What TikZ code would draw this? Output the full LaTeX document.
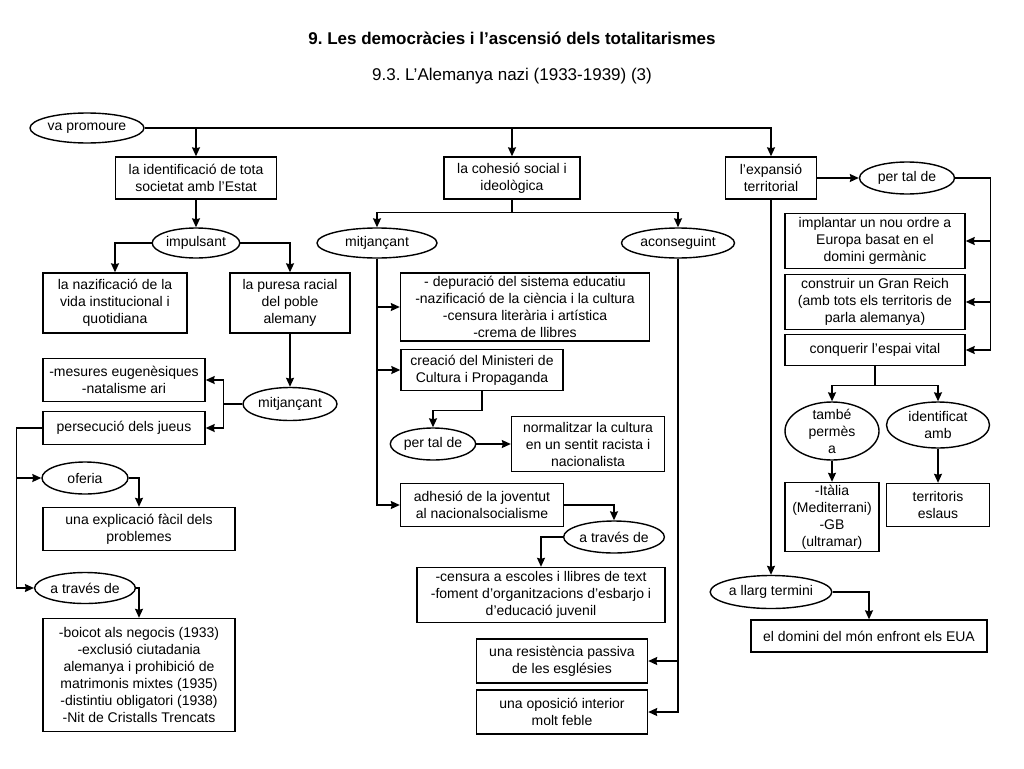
\documentclass[tikz,border=0pt]{standalone}
\usepackage{fontspec}
\setmainfont{Liberation Sans}
\frenchspacing
\usepackage{tikz}
\usetikzlibrary{shapes,arrows.meta}
\tikzset{box/.style={rectangle,draw,align=center,inner sep=1pt}}
\tikzset{ell/.style={ellipse,draw,align=center,inner sep=1pt}}

\begin{document}
\begin{tikzpicture}[>={Stealth[length=9pt,width=8pt,inset=1pt]},x=1pt,y=-1pt,line width=1.4pt,font=\fontsize{14}{17}\selectfont]
        \useasboundingbox (0,0) rectangle (1024,768);
        \node[font=\fontsize{17}{20}\selectfont\bfseries] (titol) at (512,38) {9. Les democràcies i l’ascensió dels totalitarismes};
        \node[font=\fontsize{17}{20}\selectfont] (subtitol) at (512,76) {9.3. L’Alemanya nazi (1933-1939) (3)};

        \node[ell,minimum width=102pt,minimum height=30pt] (promoure) at (87,128) {va promoure};
        \node[box,minimum width=161pt,minimum height=42pt] (identif) at (196,178) {la identificació de tota\\societat amb l’Estat};
        \node[box,minimum width=136pt,minimum height=42pt] (cohesio) at (512,178) {la cohesió social i\\ideològica};
        \node[box,minimum width=91pt,minimum height=42pt] (expansio) at (771,178) {l’expansió\\territorial};

        % identificacio amb l'Estat
        \node[ell,minimum width=86pt,minimum height=30pt] (impulsant) at (196,243) {impulsant};
        \node[box,minimum width=144pt,minimum height=60pt] (nazif) at (115,303) {la nazificació de la\\vida institucional i\\quotidiana};
        \node[box,minimum width=120pt,minimum height=60pt] (puresa) at (290,303) {la puresa racial\\del poble\\alemany};
        \node[ell,minimum width=94pt,minimum height=33pt] (mitjpur) at (290,404) {mitjançant};
        \node[box,minimum width=162pt,minimum height=43pt] (mesures) at (124,380) {-mesures eugenèsiques\\-natalisme ari};
        \node[box,minimum width=162pt,minimum height=33pt] (jueus) at (124,428) {persecució dels jueus};
        \node[ell,minimum width=86pt,minimum height=32pt] (oferia) at (85,478) {oferia};
        \node[box,minimum width=192pt,minimum height=43pt] (explic) at (139,529) {una explicació fàcil dels\\problemes};
        \node[ell,minimum width=86pt,minimum height=31pt] (atraves) at (85,588) {a través de};
        \node[box,minimum width=192pt,minimum height=113pt] (mesjueus) at (139,675) {-boicot als negocis (1933)\\-exclusió ciutadania\\alemanya i prohibició de\\matrimonis mixtes (1935)\\-distintiu obligatori (1938)\\-Nit de Cristalls Trencats};

        % cohesio social
        \node[ell,minimum width=120pt,minimum height=30pt] (mitjcoh) at (377,243) {mitjançant};
        \node[ell,minimum width=113pt,minimum height=30pt] (aconseg) at (678,243) {aconseguint};
        \node[box,minimum width=249pt,minimum height=68pt] (depur) at (525,307) {- depuració del sistema educatiu\\-nazificació de la ciència i la cultura\\-censura literària i artística\\-crema de llibres};
        \node[box,minimum width=162pt,minimum height=41pt] (minister) at (482,370) {creació del Ministeri de\\Cultura i Propaganda};
        \node[ell,minimum width=85pt,minimum height=32pt] (pertalcult) at (433,444) {per tal de};
        \node[box,minimum width=153pt,minimum height=55pt] (normal) at (588,444) {normalitzar la cultura\\en un sentit racista i\\nacionalista};
        \node[box,minimum width=163pt,minimum height=43pt] (joventut) at (482,505) {adhesió de la joventut\\al nacionalsocialisme};
        \node[ell,minimum width=85pt,minimum height=32pt] (atravesjov) at (614,537) {a través de};
        \node[box,minimum width=248pt,minimum height=55pt] (censura) at (541,595) {-censura a escoles i llibres de text\\-foment d’organitzacions d’esbarjo i\\d’educació juvenil};
        \node[box,minimum width=171pt,minimum height=44pt] (esglesies) at (562,661) {una resistència passiva\\de les esglésies};
        \node[box,minimum width=171pt,minimum height=44pt] (oposicio) at (562,712) {una oposició interior\\molt feble};

        % expansio territorial
        \node[ell,minimum width=95pt,minimum height=32pt] (pertalexp) at (907,178) {per tal de};
        \node[box,minimum width=180pt,minimum height=55pt] (ordre) at (875,241) {implantar un nou ordre a\\Europa basat en el\\domini germànic};
        \node[box,minimum width=180pt,minimum height=55pt] (reich) at (875,302) {construir un Gran Reich\\(amb tots els territoris de\\parla alemanya)};
        \node[box,minimum width=180pt,minimum height=31pt] (espai) at (875,350) {conquerir l’espai vital};
        \node[ell,minimum width=94pt,minimum height=58pt,inner ysep=-3pt] (permes) at (832,431) {també\\permès\\a};
        \node[ell,minimum width=103pt,minimum height=46pt] (identamb) at (938,425) {identificat\\amb};
        \node[box,minimum width=94pt,minimum height=69pt] (italia) at (832,517) {-Itàlia\\(Mediterrani)\\-GB\\(ultramar)};
        \node[box,minimum width=103pt,minimum height=43pt] (eslaus) at (938,505) {territoris\\eslaus};
        \node[ell,minimum width=110pt,minimum height=33pt] (llarg) at (771,592) {a llarg termini};
        \node[box,minimum width=236pt,minimum height=32pt] (mon) at (869,636) {el domini del món enfront els EUA};

        \draw [->] (promoure.east) -| (expansio.north);
        \draw [->] (promoure.east -| identif.north) -- (identif.north);
        \draw [->] (promoure.east -| cohesio.north) -- (cohesio.north);

        \draw [->] (identif) -- (impulsant);
        \draw [->] (impulsant.west) -| (nazif.north);
        \draw [->] (impulsant.east) -| (puresa.north);
        \draw [->] (puresa) -- (mitjpur);
        \draw [->] (mitjpur.west) -- ++(-19,0) |- (mesures.east);
        \draw [->] (mitjpur.west) -- ++(-19,0) |- (jueus.east);
        \draw [->] (jueus.west) -- ++(-26,0) |- (oferia.west);
        \draw [->] (jueus.west) -- ++(-26,0) |- (atraves.west);
        \draw [->] (oferia.east) -| (explic.north);
        \draw [->] (atraves.east) -| (mesjueus.north);

        \draw [->] (cohesio.south) -- ++(0,13) -| (mitjcoh.north);
        \draw [->] (cohesio.south) -- ++(0,13) -| (aconseg.north);
        \draw [->] (mitjcoh.south) |- (depur.west);
        \draw [->] (mitjcoh.south) |- (minister.west);
        \draw [->] (mitjcoh.south) |- (joventut.west);
        \draw [->] (minister.south) -- ++(0,19) -| (pertalcult.north);
        \draw [->] (pertalcult) -- (normal);
        \draw [->] (joventut.east) -| (atravesjov.north);
        \draw [->] (atravesjov.west) -| (censura.north);
        \draw [->] (aconseg.south) |- (esglesies.east);
        \draw [->] (aconseg.south) |- (oposicio.east);

        \draw [->] (expansio) -- (pertalexp);
        \draw [->] (pertalexp.east) -- ++(35,0) |- (ordre.east);
        \draw [->] (pertalexp.east) -- ++(35,0) |- (reich.east);
        \draw [->] (pertalexp.east) -- ++(35,0) |- (espai.east);
        \draw [->] (espai.south) -- ++(0,19) -| (permes.north);
        \draw [->] (espai.south) -- ++(0,19) -| (identamb.north);
        \draw [->] (permes) -- (italia);
        \draw [->] (identamb) -- (eslaus);
        \draw [->] (expansio) -- (llarg);
        \draw [->] (llarg.east) -| (mon.north);
    \end{tikzpicture}
\end{document}
